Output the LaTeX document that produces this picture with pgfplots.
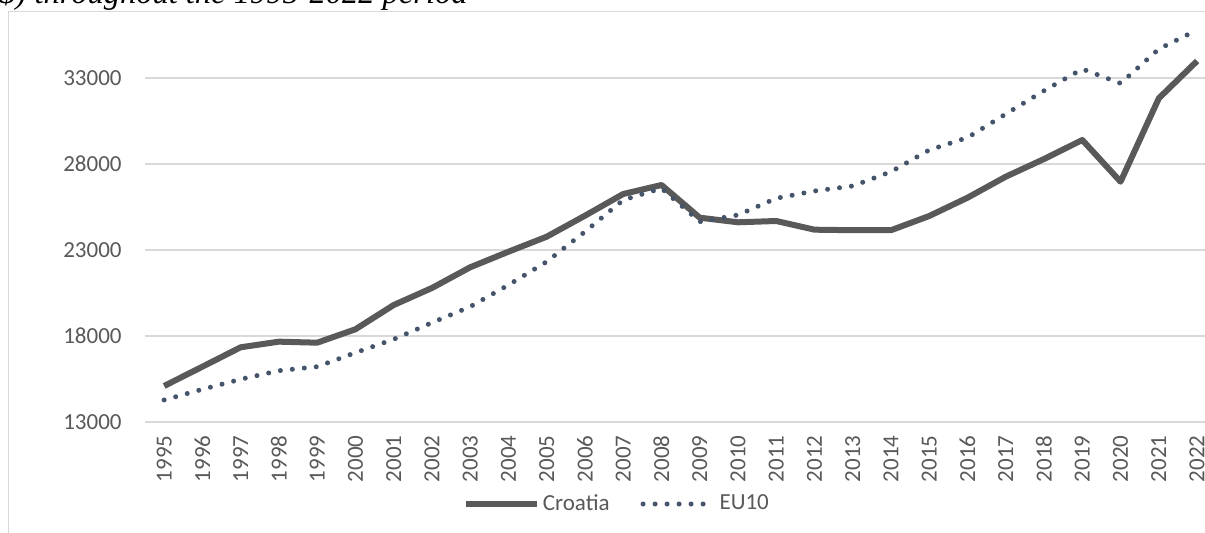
\documentclass[border=0pt]{standalone}
\usepackage{pgfplots}
\pgfplotsset{compat=1.18}
\usepackage{fontspec}
\setmainfont{Carlito}
\newfontfamily\carlito{Carlito}
\newfontfamily\timesfont{Liberation Serif}
\definecolor{cro}{HTML}{595959}
\definecolor{eu}{HTML}{44546A}
\definecolor{gridc}{HTML}{D9D9D9}
\definecolor{txt}{HTML}{595959}
\pgfplotstableread{
year croatia eu
1995 15093 14279
1996 16215 14900
1997 17343 15483
1998 17670 15983
1999 17610 16215
2000 18390 17029
2001 19800 17808
2002 20790 18773
2003 21994 19703
2004 22900 20965
2005 23773 22320
2006 24994 24064
2007 26256 25907
2008 26779 26587
2009 24878 24645
2010 24610 25035
2011 24686 26006
2012 24180 26430
2013 24150 26721
2014 24150 27552
2015 24977 28814
2016 26041 29535
2017 27262 30907
2018 28290 32262
2019 29395 33523
2020 26971 32690
2021 31820 34686
2022 33988 35791
}\datatable
\begin{document}
\begin{tikzpicture}
\useasboundingbox (0pt,0pt) rectangle (602.5pt,266.5pt);
\clip (0pt,0pt) rectangle (602.5pt,266.5pt);
\fill[white] (0pt,0pt) rectangle (602.5pt,266.5pt);
\draw[gridc, line width=0.75pt] (4.2pt,-5pt) -- (4.2pt,260.7pt) -- (620pt,260.7pt);
\node[anchor=base east, inner sep=0pt, font=\timesfont\itshape\fontsize{16.25}{18}\selectfont] at (234pt,264.5pt) {\$) throughout the 1995-2022 period};
\begin{axis}[
  at={(72.5pt,55.5pt)}, anchor=south west,
  scale only axis, width=535.6pt, height=197.8pt,
  xmin=1994.5, xmax=2022.5, ymin=13000, ymax=36000,
  clip=false,
  scaled ticks=false,
  axis line style={draw=none},
  major tick length=0pt,
  ymajorgrids, grid style={gridc, line width=0.75pt},
  xtick={1995,...,2022},
  ytick={13000,18000,23000,28000,33000},
  /pgf/number format/1000 sep={},
  /pgf/number format/assume math mode=true,
  ticklabel style={font=\carlito\fontsize{11.5}{13}\selectfont, text=txt},
  yticklabel style={anchor=east, inner sep=0pt, xshift=-11.5pt},
  xticklabel style={rotate=90, anchor=east, inner sep=0pt, xshift=-6.5pt},
  legend style={at={(0.441,-0.2073)}, anchor=center, draw=none, fill=none,
    legend columns=2, font=\carlito\fontsize{11.5}{13}\selectfont, text=txt,
    /tikz/every even column/.append style={column sep=14pt},
    nodes={inner sep=1.5pt}},
  legend image code/.code={\draw[#1] (0pt,0pt) -- (35.5pt,0pt);},
]
\addplot[cro, line width=3pt, line join=round] table[x=year, y=croatia] {\datatable};
\addlegendentry{Croatia}
\addplot[eu, line width=2.5pt, line cap=round, dash pattern=on 0pt off 6pt] table[x=year, y=eu] {\datatable};
\addlegendentry{EU10}
\end{axis}
\end{tikzpicture}
\end{document}
